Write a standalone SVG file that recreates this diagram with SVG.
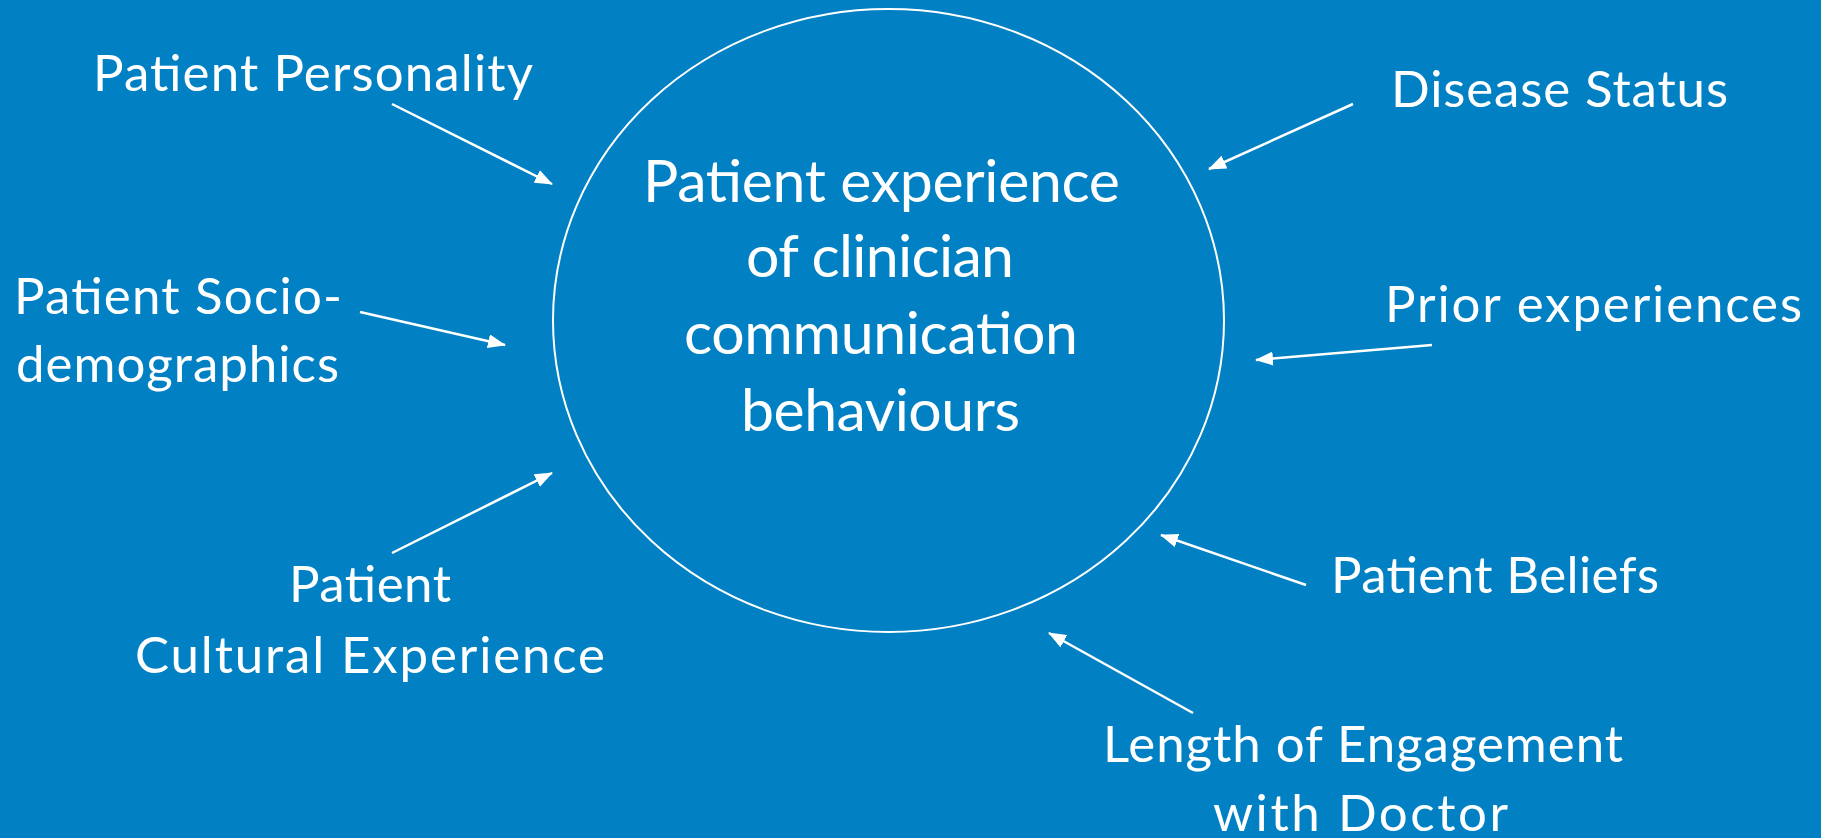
<svg xmlns="http://www.w3.org/2000/svg" width="1821" height="838" viewBox="0 0 1821 838">
  <style>
    .lbl { font-family: Lato, "Open Sans", "Liberation Sans", sans-serif; fill: #ffffff; font-size: 51px; }
    .core { font-family: Lato, "Open Sans", "Liberation Sans", sans-serif; fill: #ffffff; font-size: 59px; }
    .link { stroke: #ffffff; stroke-width: 2.5; fill: none; marker-end: url(#head); }
  </style>
  <defs>
    <marker id="head" markerUnits="userSpaceOnUse" markerWidth="18" markerHeight="14" refX="17" refY="7" orient="auto" viewBox="0 0 18 14">
      <path d="M0,0 L18,7 L0,14 Z" fill="#ffffff"/>
    </marker>
  </defs>

  <rect width="1821" height="838" fill="#0180C3"/>

  <!-- central concept -->
  <g id="center">
    <ellipse cx="888.5" cy="320.5" rx="335.5" ry="311.5" fill="none" stroke="#ffffff" stroke-width="2"/>
    <text class="core" x="643" y="202" textLength="477">Patient experience</text>
    <text class="core" x="746" y="277" textLength="268">of clinician</text>
    <text class="core" x="684" y="354" textLength="394">communication</text>
    <text class="core" x="741" y="431" textLength="279">behaviours</text>
  </g>

  <g id="personality">
    <text class="lbl" x="93" y="91" textLength="440">Patient Personality</text>
  </g>
  <g id="sociodemographics">
    <text class="lbl" x="14" y="314" textLength="328">Patient Socio-</text>
    <text class="lbl" x="16" y="382" textLength="323">demographics</text>
  </g>
  <g id="cultural">
    <text class="lbl" x="289" y="602" textLength="162">Patient</text>
    <text class="lbl" x="135" y="673" textLength="470">Cultural Experience</text>
  </g>
  <g id="disease">
    <text class="lbl" x="1391" y="107" textLength="337">Disease Status</text>
  </g>
  <g id="prior">
    <text class="lbl" x="1385" y="322" textLength="417">Prior experiences</text>
  </g>
  <g id="beliefs">
    <text class="lbl" x="1331" y="593" textLength="328">Patient Beliefs</text>
  </g>
  <g id="engagement">
    <text class="lbl" x="1103" y="762" textLength="520">Length of Engagement</text>
    <text class="lbl" x="1213" y="831" textLength="295">with Doctor</text>
  </g>

  <!-- connectors -->
  <g id="connectors">
    <line class="link" x1="392" y1="104" x2="552" y2="184"/>
    <line class="link" x1="360" y1="312" x2="505" y2="345"/>
    <line class="link" x1="392" y1="553" x2="552" y2="473"/>
    <line class="link" x1="1353" y1="104" x2="1209" y2="169"/>
    <line class="link" x1="1432" y1="345" x2="1256" y2="360"/>
    <line class="link" x1="1306" y1="585" x2="1161" y2="535"/>
    <line class="link" x1="1193" y1="713" x2="1049" y2="633"/>
  </g>
</svg>
